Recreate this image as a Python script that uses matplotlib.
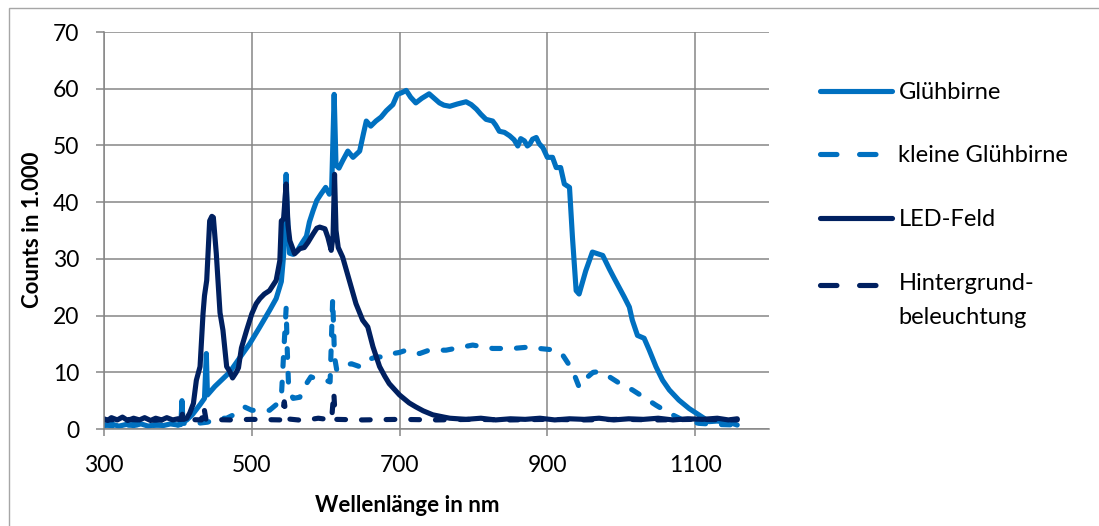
import matplotlib
matplotlib.use("Agg")
import matplotlib.pyplot as plt
from matplotlib.lines import Line2D
from matplotlib.patches import Rectangle
from matplotlib.legend_handler import HandlerLine2D

plt.rcParams['font.family'] = ['Lato', 'DejaVu Sans']

# ---------------- data ----------------
gb_x = [300, 310, 320, 330, 340, 350, 360, 370, 380, 390, 400, 404, 405.5, 407, 412, 420, 430,
        436, 438.5, 440, 450, 470, 485, 497, 510, 524, 533, 540, 543, 546.5, 548, 551, 556, 562,
        568, 574, 578, 583, 588, 594, 600, 605, 608, 611.5, 614, 618, 623, 630, 637, 646, 651,
        655, 661, 668, 675, 682, 691, 697, 703, 709, 715, 722, 730, 740, 747, 754, 760, 768, 778,
        790, 797, 804, 810, 817, 826, 830, 835, 842, 849, 855, 860, 864, 869, 873, 876, 880, 885,
        889, 894, 900, 907, 912, 918, 923, 930, 934, 939, 943, 952, 961, 968, 975, 984, 990, 997,
        1004, 1011, 1015, 1022, 1031, 1038, 1047, 1056, 1065, 1078, 1092, 1105, 1119, 1130, 1137,
        1145, 1150, 1157]
gb_y = [0.6, 0.9, 0.5, 0.8, 0.6, 0.9, 0.5, 0.8, 0.6, 0.9, 0.7, 0.8, 5.0, 1.2, 1.6, 2.6, 4.3,
        5.4, 13.3, 6.0, 7.5, 10.0, 12.8, 15.0, 17.8, 20.9, 23.0, 26.0, 30.5, 44.9, 38.0, 31.0, 30.8, 31.5,
        32.8, 34.0, 36.5, 38.5, 40.3, 41.5, 42.6, 41.4, 42.0, 59.0, 46.5, 46.0, 47.3, 49.0, 47.9, 49.0, 52.0,
        54.3, 53.4, 54.3, 55.0, 56.1, 57.2, 59.0, 59.3, 59.7, 58.5, 57.5, 58.3, 59.1, 58.3, 57.5, 57.1, 56.9, 57.3,
        57.7, 57.2, 56.4, 55.5, 54.6, 54.3, 53.6, 52.5, 52.3, 51.7, 51.0, 49.9, 51.2, 50.8, 49.9, 50.2, 51.1, 51.4,
        50.3, 49.6, 47.9, 47.9, 46.1, 46.1, 43.2, 42.6, 33.8, 24.4, 23.8, 27.9, 31.2, 30.9, 30.6, 28.2, 26.7, 25.0,
        23.3, 21.5, 19.2, 16.5, 16.0, 13.9, 11.0, 8.6, 6.9, 5.1, 3.6, 2.5, 1.3, 1.4, 1.3,
        1.2, 1.0, 0.7]

kg_x = [300, 320, 340, 360, 380, 400, 404, 405.5, 407, 420, 440, 455, 466, 480, 490, 500, 511,
        524, 535, 540, 543, 546.5, 548, 550, 556, 565, 571, 580, 592, 600, 606, 609.5, 612, 615,
        623, 635, 646, 655, 668, 680, 691, 700, 709, 727, 740, 763, 799, 826, 853, 880, 889, 912,
        921, 934, 943, 952, 962, 970, 984, 1002, 1015, 1033, 1047, 1065, 1083, 1105, 1130, 1157]
kg_y = [0.7, 0.5, 0.8, 0.6, 0.7, 0.7, 0.9, 3.5, 1.0, 0.9, 1.2, 1.9, 1.9, 2.8, 3.9, 3.3, 3.3,
        3.3, 4.5, 5.5, 13.0, 21.3, 14.0, 6.9, 5.4, 5.6, 7.4, 9.2, 8.6, 8.6, 8.3, 23.0, 12.7, 10.4,
        11.2, 11.5, 11.0, 12.1, 12.7, 12.7, 13.3, 13.5, 13.9, 13.3, 13.9, 13.9, 14.8, 14.2, 14.2, 14.5, 14.2, 13.9,
        13.0, 10.4, 7.4, 8.9, 10.0, 10.1, 9.2, 7.7, 6.9, 5.4, 4.2, 2.8, 1.6, 1.0, 0.8, 0.7]

led_x = [300, 305, 310, 318, 325, 332, 340, 348, 355, 363, 370, 378, 385, 393, 400, 408, 412,
         416, 421, 425, 430, 434, 436, 439, 443, 446, 448, 452, 457, 461, 466, 470, 474, 479, 482,
         486, 493, 500, 506, 511, 517, 524, 533, 538, 540, 543, 546.5, 549, 551.5, 558, 565, 571,
         576, 583, 588, 592, 599, 603, 607.5, 610, 612, 614, 617, 623, 632, 641, 650, 657, 664, 673,
         680, 686, 693, 700, 713, 722, 732, 745, 760, 768, 790, 810, 830, 850, 870, 890, 910, 930,
         950, 970, 990, 1010, 1030, 1050, 1070, 1090, 1110, 1130, 1145, 1157]
led_y = [1.8, 1.5, 2.0, 1.6, 2.1, 1.5, 1.9, 1.6, 2.0, 1.5, 1.9, 1.6, 2.0, 1.6, 1.8, 1.7, 1.9,
         2.8, 4.5, 8.6, 11.0, 20.3, 23.5, 26.2, 36.7, 37.5, 37.3, 30.9, 20.5, 17.4, 11.0, 10.2, 9.0, 10.0, 10.8,
         14.3, 17.4, 20.3, 22.1, 23.0, 23.8, 24.4, 26.2, 29.7, 36.7, 37.0, 43.2, 36.0, 33.2, 30.9, 31.8, 32.0,
         32.9, 34.4, 35.4, 35.6, 35.3, 33.8, 31.5, 34.0, 44.9, 35.0, 32.0, 30.3, 26.2, 22.1, 19.2, 18.0, 14.5, 11.0,
         9.3, 8.0, 7.0, 6.0, 4.6, 3.9, 3.2, 2.5, 2.1, 1.9, 1.7, 1.9, 1.6, 1.8, 1.7, 1.9, 1.6, 1.8,
         1.7, 1.9, 1.6, 1.8, 1.7, 1.9, 1.6, 1.8, 1.7, 1.9, 1.6, 1.8]

hg_x = [300, 330, 360, 390, 404, 406, 408, 432, 435, 438, 470, 500, 540, 544, 547, 570, 590,
        608, 611, 613, 650, 700, 750, 800, 850, 900, 950, 1000, 1050, 1100, 1157]
hg_y = [1.6, 1.7, 1.5, 1.7, 1.7, 2.6, 1.7, 1.6, 4.0, 1.7, 1.6, 1.7, 1.6, 4.8, 1.8, 1.5, 1.9,
        1.6, 6.5, 1.7, 1.6, 1.7, 1.6, 1.7, 1.6, 1.7, 1.6, 1.7, 1.6, 1.7, 1.6]

labels = ['Glühbirne', 'kleine Glühbirne', 'LED-Feld', 'Hintergrund-\nbeleuchtung']
x_ticks = [300, 500, 700, 900, 1100]
y_ticks = [0, 10, 20, 30, 40, 50, 60, 70]

# ---------------- styling ----------------
C_LIGHT = '#0070C0'
C_DARK = '#002060'
GRID = '#868686'
LW = 3.7
FS = 16.5
W, H = 1099, 526


class ShiftedLineHandler(HandlerLine2D):
    """Legend line handler that raises the sample line by dy points."""
    def __init__(self, dy, **kw):
        super().__init__(**kw)
        self.dy = dy

    def create_artists(self, legend, orig_handle, xdescent, ydescent, width, height,
                       fontsize, trans):
        return super().create_artists(legend, orig_handle, xdescent, ydescent - 2 * self.dy,
                                      width, height, fontsize, trans)


fig = plt.figure(figsize=(W / 100, H / 100), dpi=100)
ax = fig.add_axes([104 / W, 1 - 429 / H, (769 - 104) / W, (429 - 32) / H])

common = dict(lw=LW, solid_capstyle='round', dash_capstyle='round', solid_joinstyle='round')
ax.plot(gb_x, gb_y, color=C_LIGHT, **common)
ax.plot(kg_x, kg_y, color=C_LIGHT, dashes=(1.7, 3.1), **common)
ax.plot(led_x, led_y, color=C_DARK, **common)
ax.plot(hg_x, hg_y, color=C_DARK, dashes=(1.7, 3.1), **common)

ax.set_xlim(300, 1200)
ax.set_ylim(0, 70)
ax.set_xticks(x_ticks)
ax.set_yticks(y_ticks)
ax.grid(True, color=GRID, lw=1.1)
ax.set_axisbelow(True)
for s in ['top', 'right']:
    ax.spines[s].set_visible(False)
for s in ['left', 'bottom']:
    ax.spines[s].set_color(GRID)
    ax.spines[s].set_linewidth(1.1)
ax.tick_params(axis='y', length=5.8, width=1.1, color=GRID, pad=12, labelsize=FS, labelcolor='black')
ax.tick_params(axis='x', length=5.0, width=1.1, color=GRID, pad=14, labelsize=FS, labelcolor='black')

fig.text(33 / W, 1 - 230 / H, 'Counts in 1.000', rotation=90, ha='center', va='center',
         fontsize=16, fontweight='bold')
fig.text(407 / W, 1 - 506 / H, 'Wellenlänge in nm', ha='center', va='center',
         fontsize=16, fontweight='bold')

handles = [
    Line2D([], [], color=C_LIGHT, lw=LW, solid_capstyle='round'),
    Line2D([], [], color=C_LIGHT, lw=LW, dashes=(3.2, 4.4), dash_capstyle='round'),
    Line2D([], [], color=C_DARK, lw=LW, solid_capstyle='round'),
    Line2D([], [], color=C_DARK, lw=LW, dashes=(3.2, 4.4), dash_capstyle='round'),
]
leg = fig.legend(handles, labels, loc='upper left', bbox_to_anchor=(820 / W, 1 - 82 / H),
                 frameon=False, fontsize=17, handlelength=3.05, handletextpad=0.27,
                 labelspacing=1.8, borderpad=0, borderaxespad=0,
                 handler_map={handles[3]: ShiftedLineHandler(11)})
for t in leg.get_texts():
    t.set_linespacing(1.8)

fig.patches.append(Rectangle((9 / W, -0.1), 2, 1 - 8 / H + 0.1, transform=fig.transFigure,
                             fill=False, edgecolor='#A6A6A6', lw=1.0))

fig.savefig('out.png', dpi=100)
